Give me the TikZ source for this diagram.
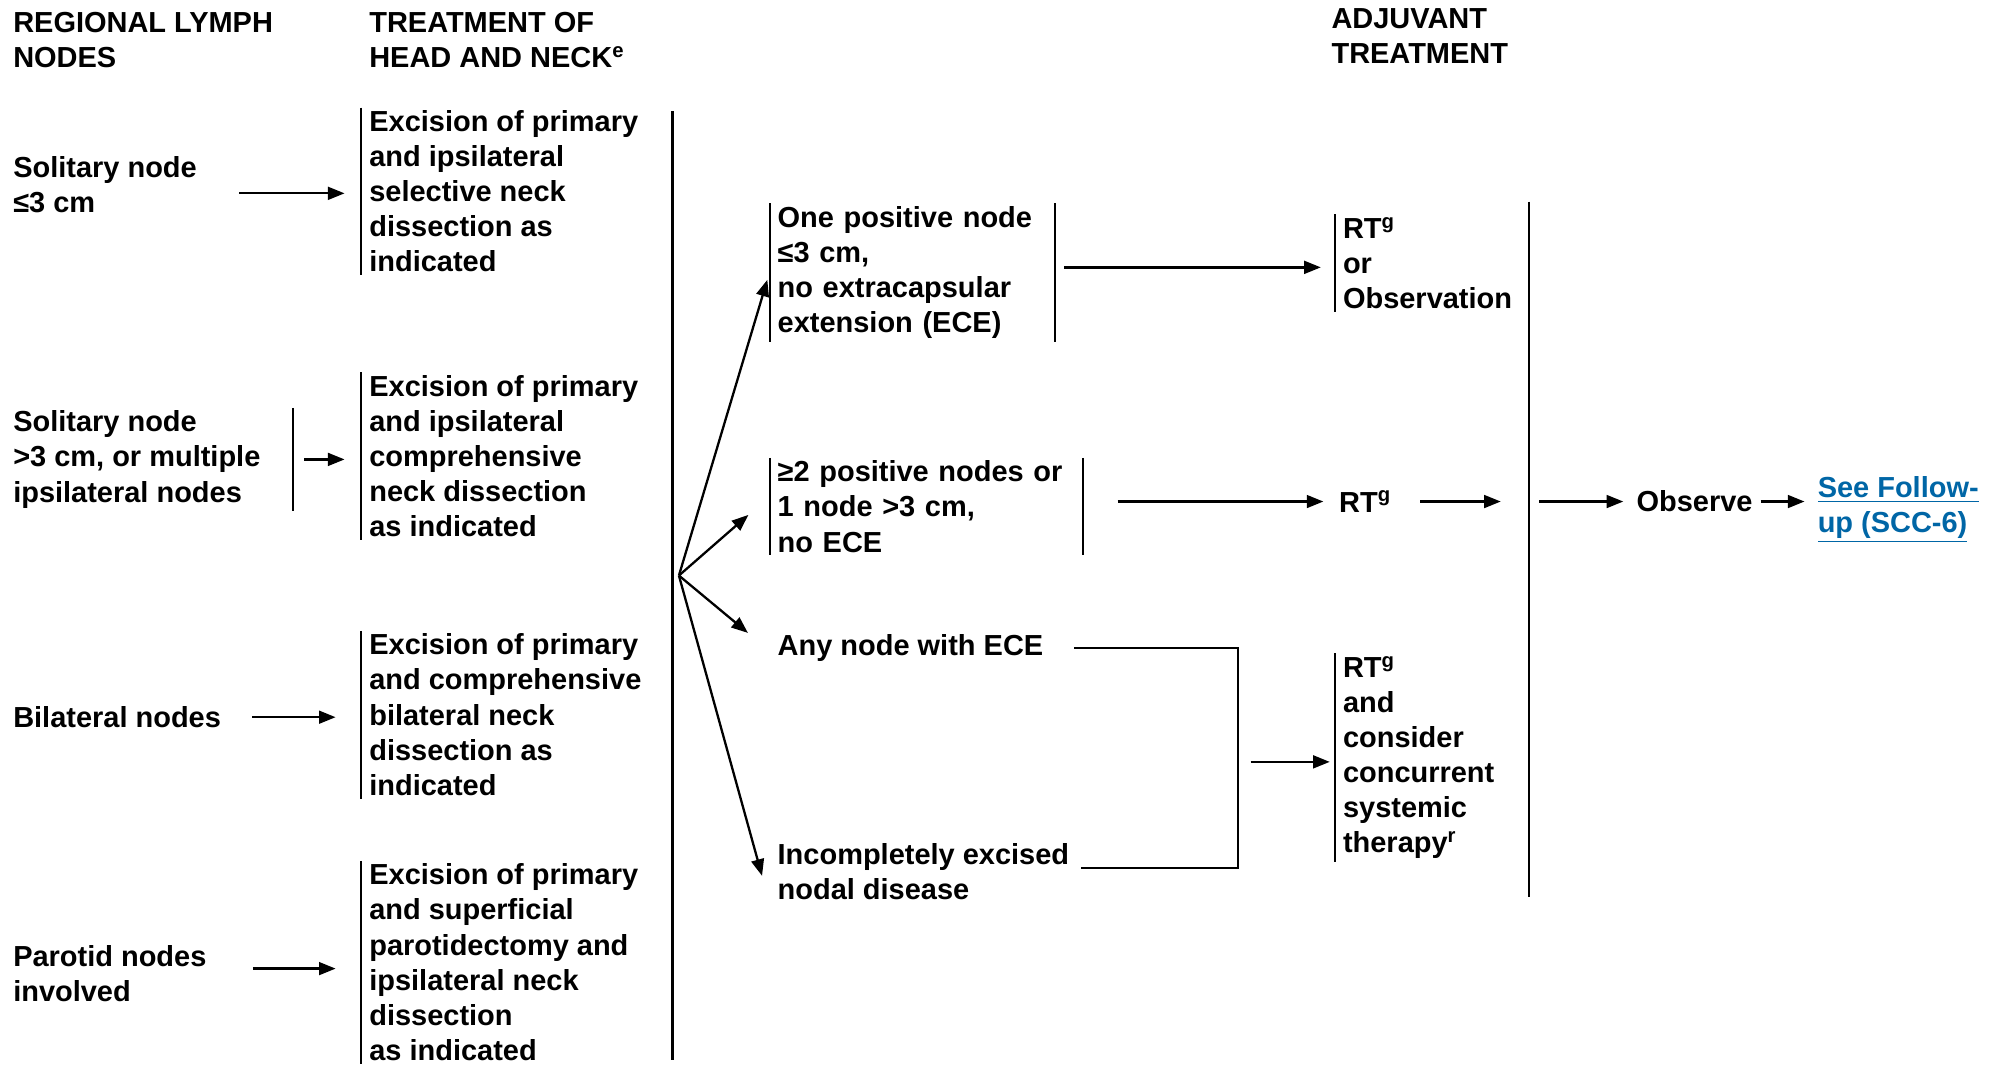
\documentclass[tikz,border=0pt]{standalone}
\usepackage{fontspec}
\setmainfont{Liberation Sans}
\usepackage{tikz}
\usetikzlibrary{arrows.meta, positioning, calc}
\definecolor{followblue}{RGB}{0, 102, 166}

\begin{document}
\begin{tikzpicture}[
    x=0.5pt, y=-0.5pt,
    every node/.style={font=\fontsize{11.35}{13.75}\selectfont\bfseries, align=left, inner xsep=3pt, inner ysep=1pt, anchor=west},
    arrow/.style={-{Triangle[length=6.5pt, width=5pt]}, line width=0.9pt},
    bar/.style={line width=0.8pt},
    rule/.style={line width=1pt}
  ]
  \useasboundingbox (0,0) rectangle (1568,835);

  % column heads
  \node (hdnodes) at (4,31.5) {REGIONAL LYMPH\\NODES};
  \node (hdtreat) at (283,31.5) {TREATMENT OF\\HEAD AND NECK\textsuperscript{e}};
  \node (hdadj) at (1037,28.5) {ADJUVANT\\TREATMENT};

  % regional lymph nodes
  \node (solsmall) at (4,144.5) {Solitary node\\≤3 cm};
  \node (solbig) at (4,360) {Solitary node\\>3 cm, or multiple\\ipsilateral nodes};
  \node (bilat) at (4,562) {Bilateral nodes};
  \node (parotid) at (4,763) {Parotid nodes\\involved};

  % treatment of head and neck
  \node (exsel) at (283,150) {Excision of primary\\and ipsilateral\\selective neck\\dissection as\\indicated};
  \node (excomp) at (283,357.5) {Excision of primary\\and ipsilateral\\comprehensive\\neck dissection\\as indicated};
  \node (exbilat) at (283,560) {Excision of primary\\and comprehensive\\bilateral neck\\dissection as\\indicated};
  \node (exparotid) at (283,754) {Excision of primary\\and superficial\\parotidectomy and\\ipsilateral neck\\dissection\\as indicated};

  \draw[bar] (exsel.north west) -- (exsel.south west);
  \draw[bar] (excomp.north west) -- (excomp.south west);
  \draw[bar] (exbilat.north west) -- (exbilat.south west);
  \draw[bar] (exparotid.north west) -- (exparotid.south west);
  \draw[bar] ([xshift=9.5pt]solbig.north east) -- ([xshift=9.5pt]solbig.south east);

  \draw[arrow, shorten <=13.5pt, shorten >=6.5pt] ([yshift=-3.5pt]solsmall.east) -- ([yshift=-3.5pt]solsmall.east -| exsel.west);
  \draw[arrow, shorten <=14pt, shorten >=6.5pt] (solbig.east) -- (solbig.east -| excomp.west);
  \draw[arrow, shorten <=9pt, shorten >=10pt] (bilat.east) -- (bilat.east -| exbilat.west);
  \draw[arrow, shorten <=15pt, shorten >=10pt] ([yshift=2pt]parotid.east) -- ([yshift=2pt]parotid.east -| exparotid.west);

  \draw[rule] (527,87) -- (527,831);
  \coordinate (fan) at (532,451);

  % pathology findings
  \node[text width=105.5pt] (onepos) at (603,213.5) {One positive node\\≤3 cm,\\no extracapsular\\extension (ECE)};
  \node[text width=116.5pt] (twopos) at (603,397) {≥2 positive nodes or\\1 node >3 cm,\\no ECE};
  \node (anyece) at (603,508) {Any node with ECE};
  \node (incompl) at (603,683) {Incompletely excised\\nodal disease};

  \draw[bar] (onepos.north west) -- (onepos.south west);
  \draw[bar] (onepos.north east) -- (onepos.south east);
  \draw[bar] (twopos.north west) -- (twopos.south west);
  \draw[bar] (twopos.north east) -- (twopos.south east);

  \draw[arrow, shorten >=3pt] (fan) -- (onepos.west);
  \draw[arrow, shorten >=11pt] (fan) -- ([yshift=4pt]twopos.west);
  \draw[arrow, shorten >=11pt] (fan) -- ([yshift=-1pt]anyece.west);
  \draw[arrow, shorten >=11pt] (fan) -- (incompl.south west);

  % adjuvant treatment
  \node (rtobs) at (1046,206) {RT\textsuperscript{g}\\or\\Observation};
  \node (rtonly) at (1043,393) {RT\textsuperscript{g}};
  \node (rtsys) at (1046,593.5) {RT\textsuperscript{g}\\and\\consider\\concurrent\\systemic\\therapy\textsuperscript{r}};
  \draw[bar] (rtobs.north west) -- (rtobs.south west);
  \draw[bar] (rtsys.north west) -- (rtsys.south west);

  \draw[arrow, shorten <=3.5pt, shorten >=5.5pt] ([yshift=2pt]onepos.east) -- ([yshift=2pt]onepos.east -| rtobs.west);
  \draw[arrow, shorten <=13.5pt, shorten >=3pt] (twopos.east |- rtonly.west) -- (rtonly.west);

  \coordinate (merge) at (970,597);
  \draw[bar] ([xshift=9pt]anyece.east) -| (merge) |- ([xshift=1.5pt, yshift=1.5pt]incompl.east);
  \draw[arrow, shorten <=5pt, shorten >=2pt] (merge) -- (merge -| rtsys.west);

  \draw[rule] (1198,158) -- (1198,703);
  \coordinate (joinR) at (1198,393);
  \draw[arrow, shorten <=8pt, shorten >=11pt] (rtonly.east) -- (rtonly.east -| joinR);

  \node (observe) at (1276,393) {Observe};
  \node[text=followblue] (followup) at (1418,399.5) {\underline{See Follow-}\\\underline{up (SCC-6)}};
  \draw[arrow, shorten <=4pt, shorten >=2pt] (joinR) -- (observe.west);
  \draw[arrow, shorten >=2pt] (observe.east) -- (observe.east -| followup.west);
\end{tikzpicture}
\end{document}
